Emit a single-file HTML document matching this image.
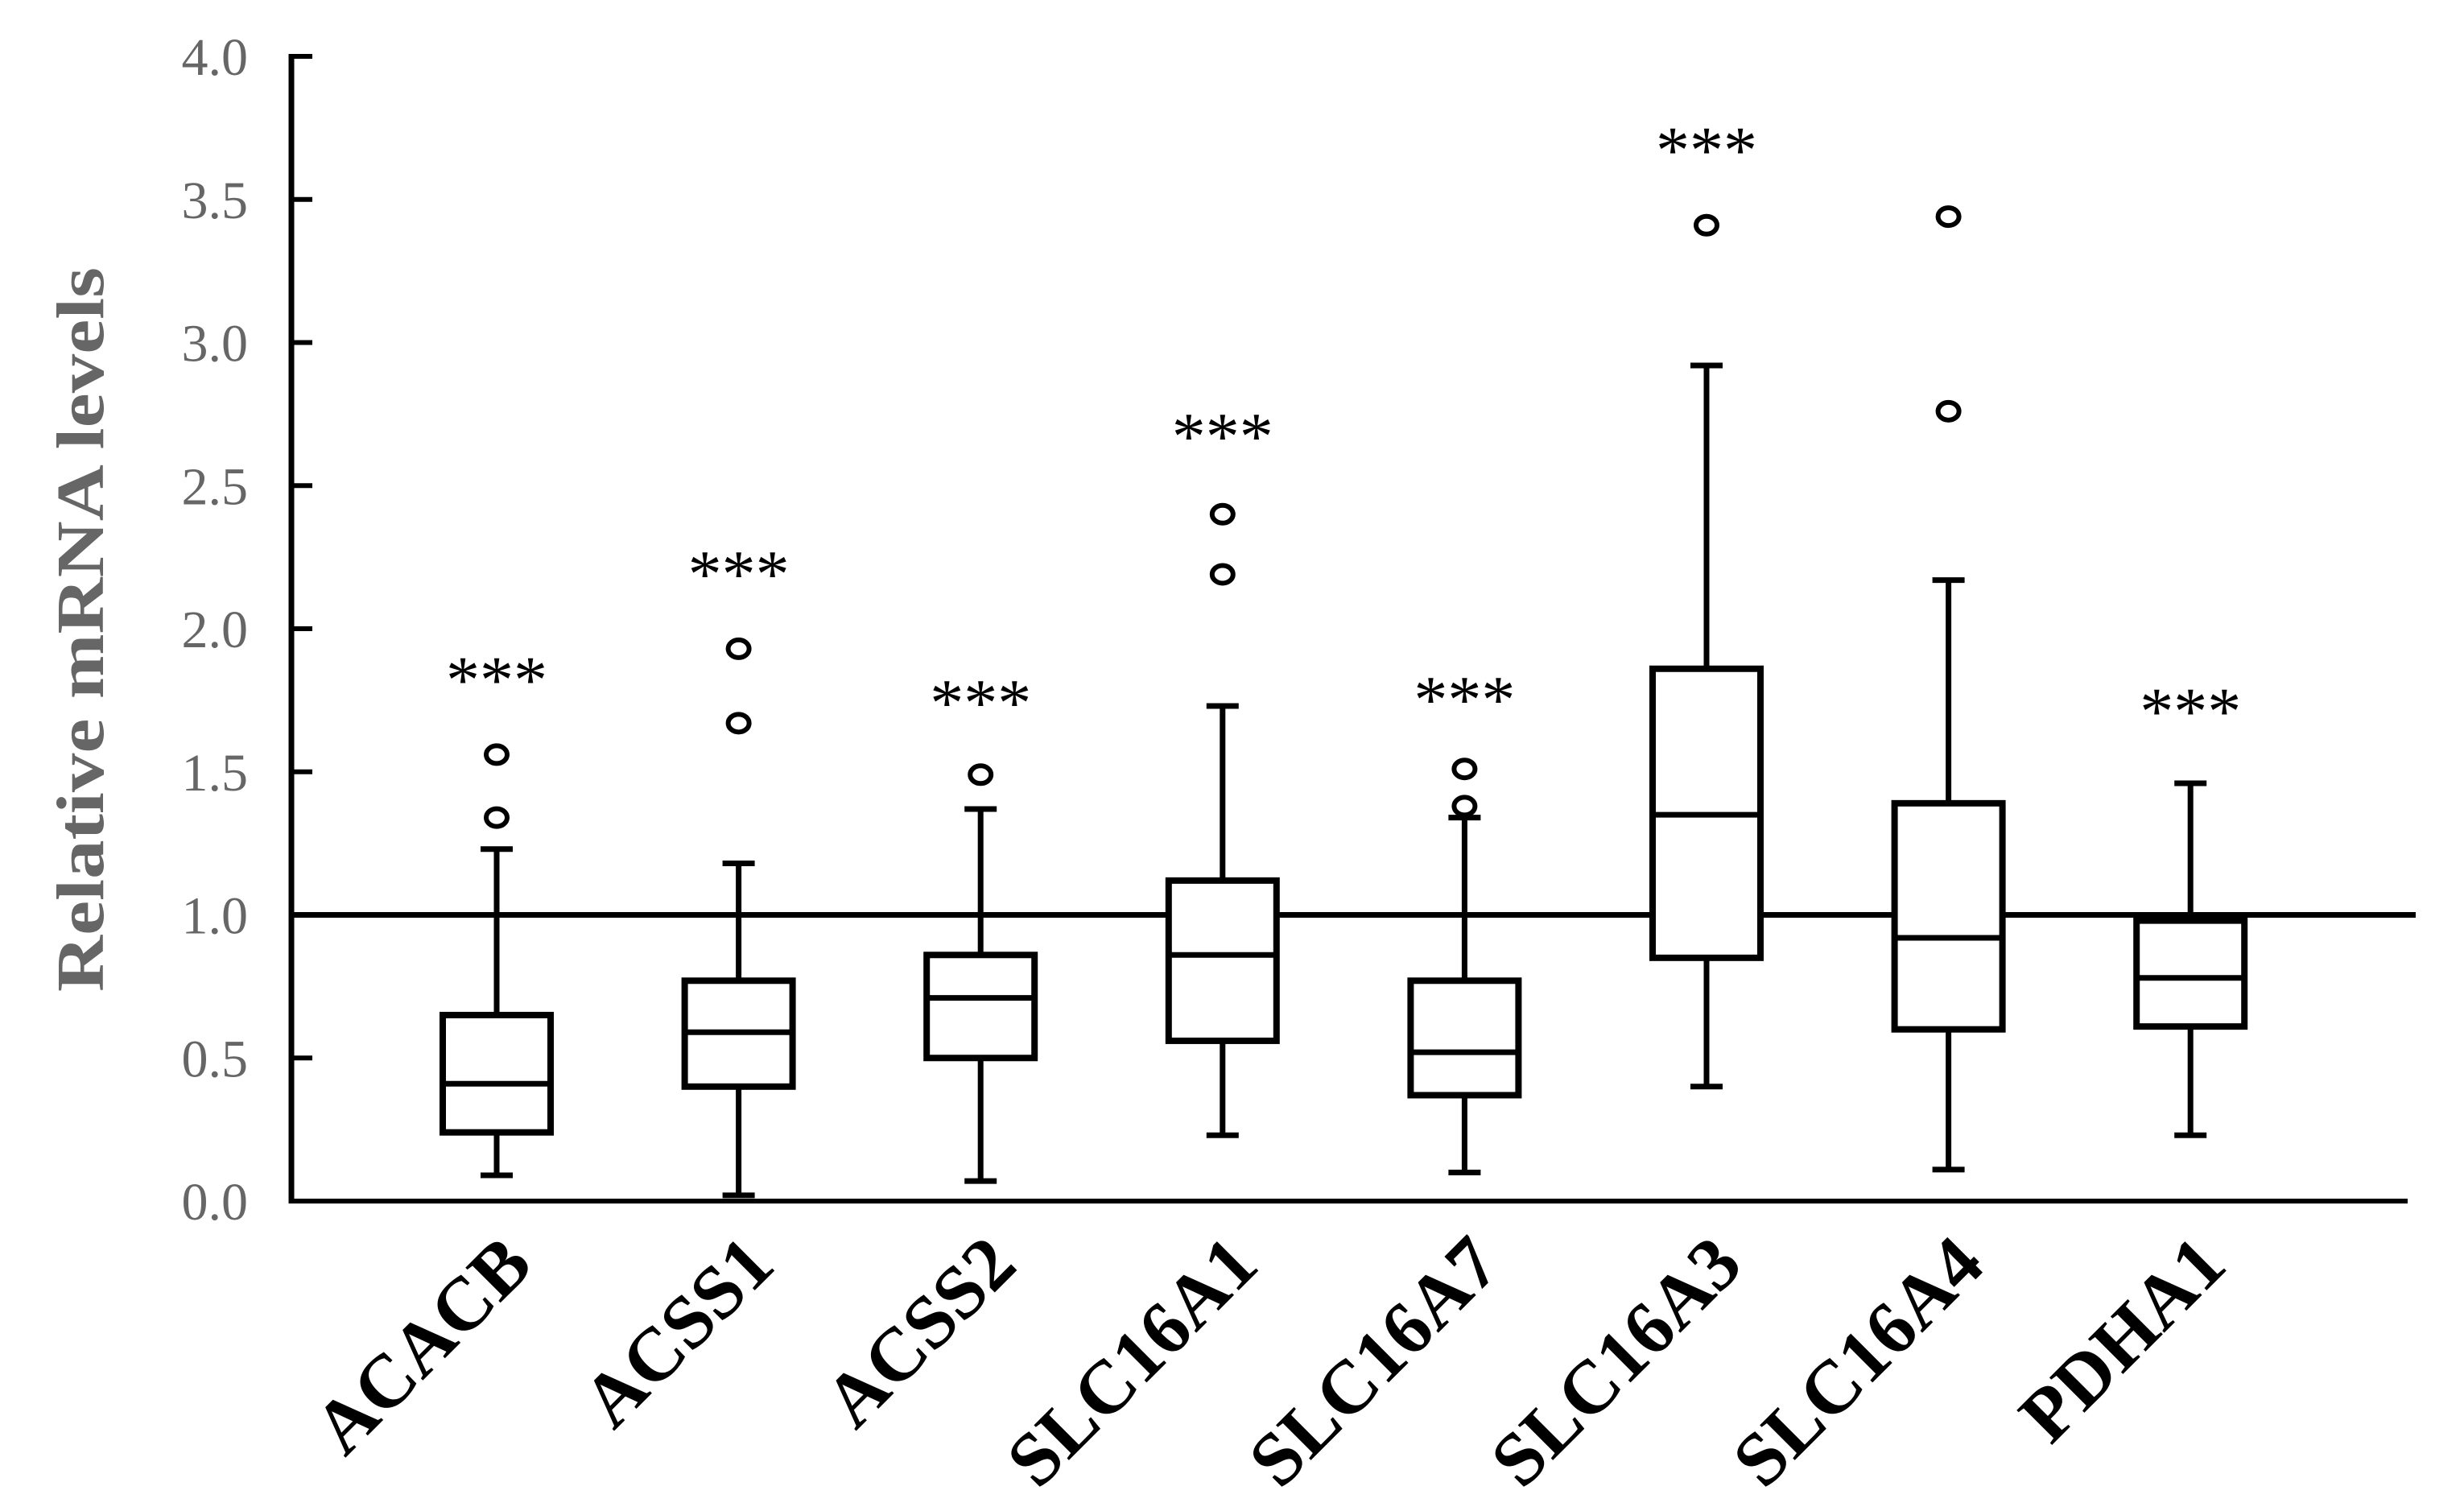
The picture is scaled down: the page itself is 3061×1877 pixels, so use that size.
<!DOCTYPE html>
<html><head><meta charset="utf-8"><style>
html,body{margin:0;padding:0;background:#fff;}
svg{display:block;}
</style></head><body>
<svg id="chart" width="3061" height="1877" viewBox="0 0 3061 1877" xmlns="http://www.w3.org/2000/svg">
<g id="axes"></g>
<g id="marks"></g>
<text transform="translate(128,782) rotate(-90)" text-anchor="middle" font-family="Liberation Serif, serif" font-weight="bold" font-size="84" fill="#666" textLength="900" lengthAdjust="spacingAndGlyphs">Relative mRNA levels</text>
</svg>
<script>
const categories = ["ACACB","ACSS1","ACSS2","SLC16A1","SLC16A7","SLC16A3","SLC16A4","PDHA1"];
const whiskerLow = [0.09,0.02,0.07,0.23,0.10,0.40,0.11,0.23];
const q1 = [0.24,0.40,0.50,0.56,0.37,0.85,0.60,0.61];
const median = [0.41,0.59,0.71,0.86,0.52,1.35,0.92,0.78];
const q3 = [0.65,0.77,0.86,1.12,0.77,1.86,1.39,0.98];
const whiskerHigh = [1.23,1.18,1.37,1.73,1.34,2.92,2.17,1.46];
const outliers = [[1.34,1.56],[1.67,1.93],[1.49],[2.19,2.40],[1.38,1.51],[3.41],[2.76,3.44],[]];
const starLevels = [1.85,2.22,1.77,2.70,1.78,3.70,null,1.74];
const yTicks = ["0.0","0.5","1.0","1.5","2.0","2.5","3.0","3.5","4.0"];
const referenceLevel = 1.0;

const NS="http://www.w3.org/2000/svg";
const y = v => 1492 - 355.5*v;
const x = i => 617 + 300.6*i;
function mk(parent,tag,attrs){const e=document.createElementNS(NS,tag);for(const k in attrs)e.setAttribute(k,attrs[k]);parent.appendChild(e);return e;}
const axes=document.getElementById('axes'), marks=document.getElementById('marks');

let e=mk(axes,'line',{x1:362,y1:y(0),x2:2991,y2:y(0),stroke:'#000','stroke-width':6});


e=mk(axes,'line',{x1:362,y1:y(4)-3,x2:362,y2:y(0)+3,stroke:'#000','stroke-width':7});


yTicks.forEach(t=>{
  const v=parseFloat(t);
  let tk=mk(axes,'line',{x1:362,y1:y(v),x2:388,y2:y(v),stroke:'#000','stroke-width':6});
  
  
  let tl=mk(axes,'text',{x:308,y:y(v)+23,'text-anchor':'end','font-family':'Liberation Serif, serif','font-size':66,fill:'#666'});
  tl.textContent=t;
  
  
});
e=mk(axes,'line',{x1:362,y1:y(referenceLevel),x2:3001,y2:y(referenceLevel),stroke:'#000','stroke-width':7});



categories.forEach((c,i)=>{
  const cx=x(i), g=mk(marks,'g',{});
  
  
  const st={stroke:'#000','stroke-width':7,fill:'none'};
  mk(g,'line',Object.assign({x1:cx,y1:y(whiskerLow[i]),x2:cx,y2:y(q1[i])},st));
  mk(g,'line',Object.assign({x1:cx,y1:y(q3[i]),x2:cx,y2:y(whiskerHigh[i])},st));
  mk(g,'line',Object.assign({x1:cx-20,y1:y(whiskerLow[i]),x2:cx+20,y2:y(whiskerLow[i])},st));
  mk(g,'line',Object.assign({x1:cx-20,y1:y(whiskerHigh[i]),x2:cx+20,y2:y(whiskerHigh[i])},st));
  mk(g,'rect',{x:cx-67,y:y(q3[i]),width:134,height:y(q1[i])-y(q3[i]),fill:'#fff',stroke:'#000','stroke-width':8});
  mk(g,'line',Object.assign({x1:cx-67,y1:y(median[i]),x2:cx+67,y2:y(median[i])},st));
  outliers[i].forEach(o=>{
    let oc=mk(g,'ellipse',{cx:cx,cy:y(o),rx:13,ry:11,fill:'none',stroke:'#000','stroke-width':6});
    
    
  });
  if(starLevels[i]!==null){
    let s=mk(g,'text',{x:cx,y:y(starLevels[i])+38,'text-anchor':'middle','font-family':'Liberation Serif, serif','font-size':84,fill:'#000'});
    s.textContent='***';
    
    
  }
  let lb=mk(axes,'text',{transform:`translate(${cx+48},1575) rotate(-45)`,'text-anchor':'end','font-family':'Liberation Serif, serif','font-weight':'bold','font-size':94,fill:'#000'});
  lb.textContent=c;
  
  
});
</script>
</body></html>
